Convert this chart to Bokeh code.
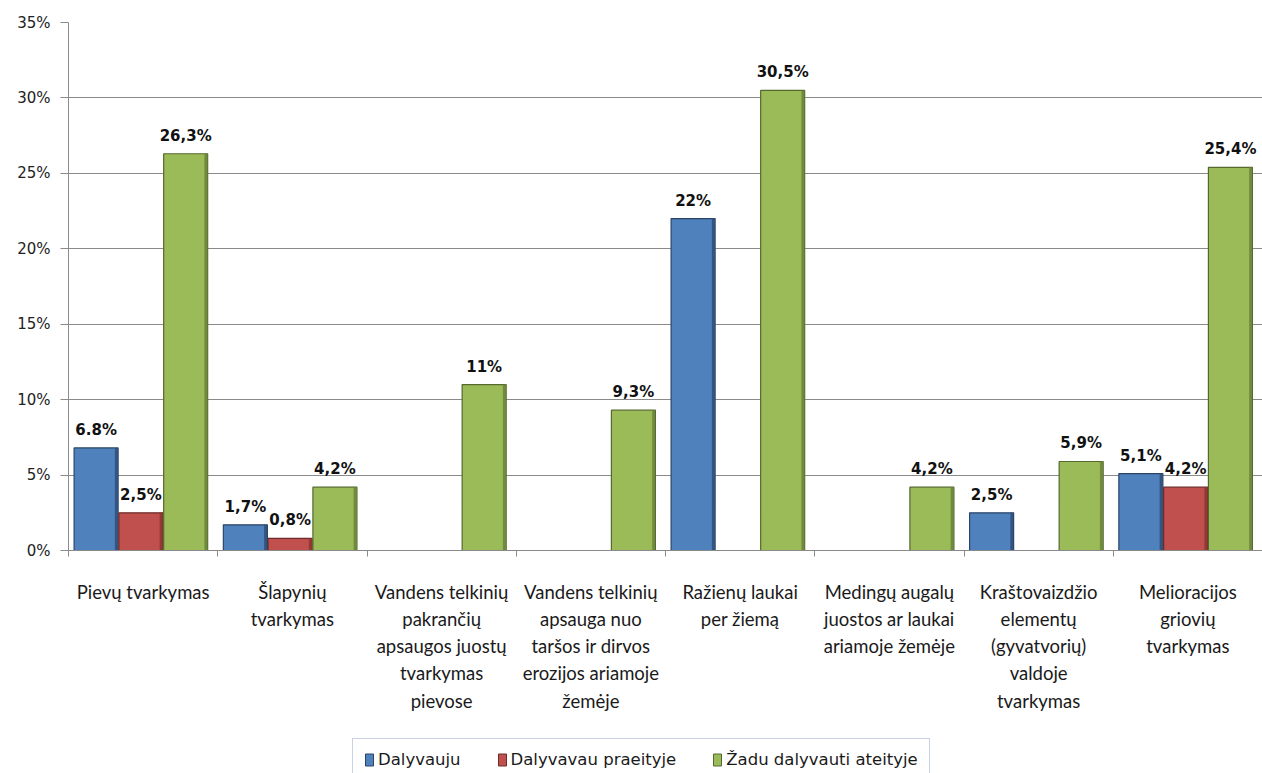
import numpy as np
from bokeh.plotting import figure
from bokeh.models import Range1d, FixedTicker, ColumnDataSource, Legend, LegendItem
from bokeh.layouts import column
from bokeh.embed import file_html
from bokeh.resources import INLINE
from bokeh.core.properties import value

categories = [
    "Pievų tvarkymas",
    "Šlapynių\ntvarkymas",
    "Vandens telkinių\npakrančių\napsaugos juostų\ntvarkymas\npievose",
    "Vandens telkinių\napsauga nuo\ntaršos ir dirvos\nerozijos ariamoje\nžemėje",
    "Ražienų laukai\nper žiemą",
    "Medingų augalų\njuostos ar laukai\nariamoje žemėje",
    "Kraštovaizdžio\nelementų\n(gyvatvorių)\nvaldoje\ntvarkymas",
    "Melioracijos\ngriovių\ntvarkymas",
]
series_names = ["Dalyvauju", "Dalyvavau praeityje", "Žadu dalyvauti ateityje"]
dalyvauju = [6.8, 1.7, 0, 0, 22, 0, 2.5, 5.1]
dalyvavau = [2.5, 0.8, 0, 0, 0, 0, 0, 4.2]
zadu = [26.3, 4.2, 11, 9.3, 30.5, 4.2, 5.9, 25.4]
dalyvauju_labels = ["6.8%", "1,7%", "", "", "22%", "", "2,5%", "5,1%"]
dalyvavau_labels = ["2,5%", "0,8%", "", "", "", "", "", "4,2%"]
zadu_labels = ["26,3%", "4,2%", "11%", "9,3%", "30,5%", "4,2%", "5,9%", "25,4%"]
y_ticks = [0, 5, 10, 15, 20, 25, 30, 35]

colors = ["#4F81BD", "#C0504D", "#9BBB59"]
edges = ["#2A4468", "#6E2A28", "#55692F"]
shades = ["#2F4E78", "#8A3431", "#6A8239"]

W = 1262
p = figure(width=W, height=738, output_backend="svg", toolbar_location=None,
           x_range=Range1d(0, 8), y_range=Range1d(0, 35),
           min_border_left=68, min_border_right=0, min_border_top=22,
           min_border_bottom=188)
p.outline_line_color = None
p.xgrid.grid_line_color = None
p.ygrid.grid_line_color = "#8A8A8A"
p.ygrid.ticker = FixedTicker(ticks=y_ticks)

# y axis
p.yaxis.ticker = FixedTicker(ticks=y_ticks)
p.yaxis.major_label_overrides = {t: f"{t}%" for t in y_ticks}
p.yaxis.axis_line_color = "#8A8A8A"
p.yaxis.major_tick_line_color = "#8A8A8A"
p.yaxis.major_tick_in = 0
p.yaxis.major_tick_out = 8
p.yaxis.minor_tick_line_color = None
p.yaxis.major_label_standoff = 10
p.yaxis.major_label_text_font = "DejaVu Sans"
p.yaxis.major_label_text_font_size = "15px"
p.yaxis.major_label_text_color = "#222222"

# x axis
centers = [i + 0.5 for i in range(len(categories))]
p.xaxis.ticker = FixedTicker(ticks=centers, minor_ticks=list(range(len(categories) + 1)))
p.xaxis.major_label_overrides = {c: lab for c, lab in zip(centers, categories)}
p.xaxis.axis_line_color = "#8A8A8A"
p.xaxis.major_tick_line_color = None
p.xaxis.minor_tick_line_color = "#8A8A8A"
p.xaxis.minor_tick_in = 0
p.xaxis.minor_tick_out = 6
p.xaxis.major_label_standoff = 24
p.xaxis.major_label_text_font = "Lato"
p.xaxis.major_label_text_font_size = "18.5px"
p.xaxis.major_label_text_line_height = 1.24
p.xaxis.major_label_text_color = "#1A1A1A"

offsets = [-0.315, -0.015, 0.285]
bw = 0.295
all_vals = [dalyvauju, dalyvavau, zadu]
all_labels = [dalyvauju_labels, dalyvavau_labels, zadu_labels]
for k in range(3):
    xs = [c + offsets[k] for c in centers]
    src = ColumnDataSource(dict(x=xs, top=all_vals[k], lab=all_labels[k],
                                xr=[x + bw / 2 - 0.012 for x in xs]))
    p.vbar(x="x", top="top", width=bw, bottom=0, source=src,
           fill_color=colors[k], line_color=edges[k], line_width=1.2)
    # darker right-side bevel
    p.vbar(x="xr", top="top", width=0.02, bottom=0, source=src,
           fill_color=shades[k], line_color=None, fill_alpha=0.85)
    p.text(x="x", y="top", text="lab", source=src, text_align="center",
           text_baseline="bottom", y_offset=-9, text_font=value("DejaVu Sans"),
           text_font_style="bold", text_font_size="15px", text_color="#111111")

# legend strip below the chart
lg = figure(width=W, height=35, output_backend="svg", toolbar_location=None,
            x_range=Range1d(0, 1), y_range=Range1d(0, 1),
            min_border=0, x_axis_type=None, y_axis_type=None)
lg.outline_line_color = None
lg.grid.grid_line_color = None
items = []
for k in range(3):
    dummy = ColumnDataSource(dict(x=np.array([np.nan]), top=np.array([np.nan])))
    r = lg.vbar(x="x", top="top", width=0.1, source=dummy,
                fill_color=colors[k], line_color=edges[k])
    items.append(LegendItem(label=series_names[k], renderers=[r]))
legend = Legend(items=items, orientation="horizontal", location=(284, -8),
                glyph_width=10, glyph_height=15, label_standoff=4, spacing=36,
                padding=11, margin=0, label_height=18,
                label_text_font="DejaVu Sans", label_text_font_size="16.5px",
                label_text_color="#1A1A1A", label_text_baseline="middle",
                border_line_color="#8FA3C4", border_line_width=1.5)
lg.add_layout(legend, "center")

layout = column(p, lg, spacing=0)
open("out.html", "w").write(file_html(layout, INLINE))
